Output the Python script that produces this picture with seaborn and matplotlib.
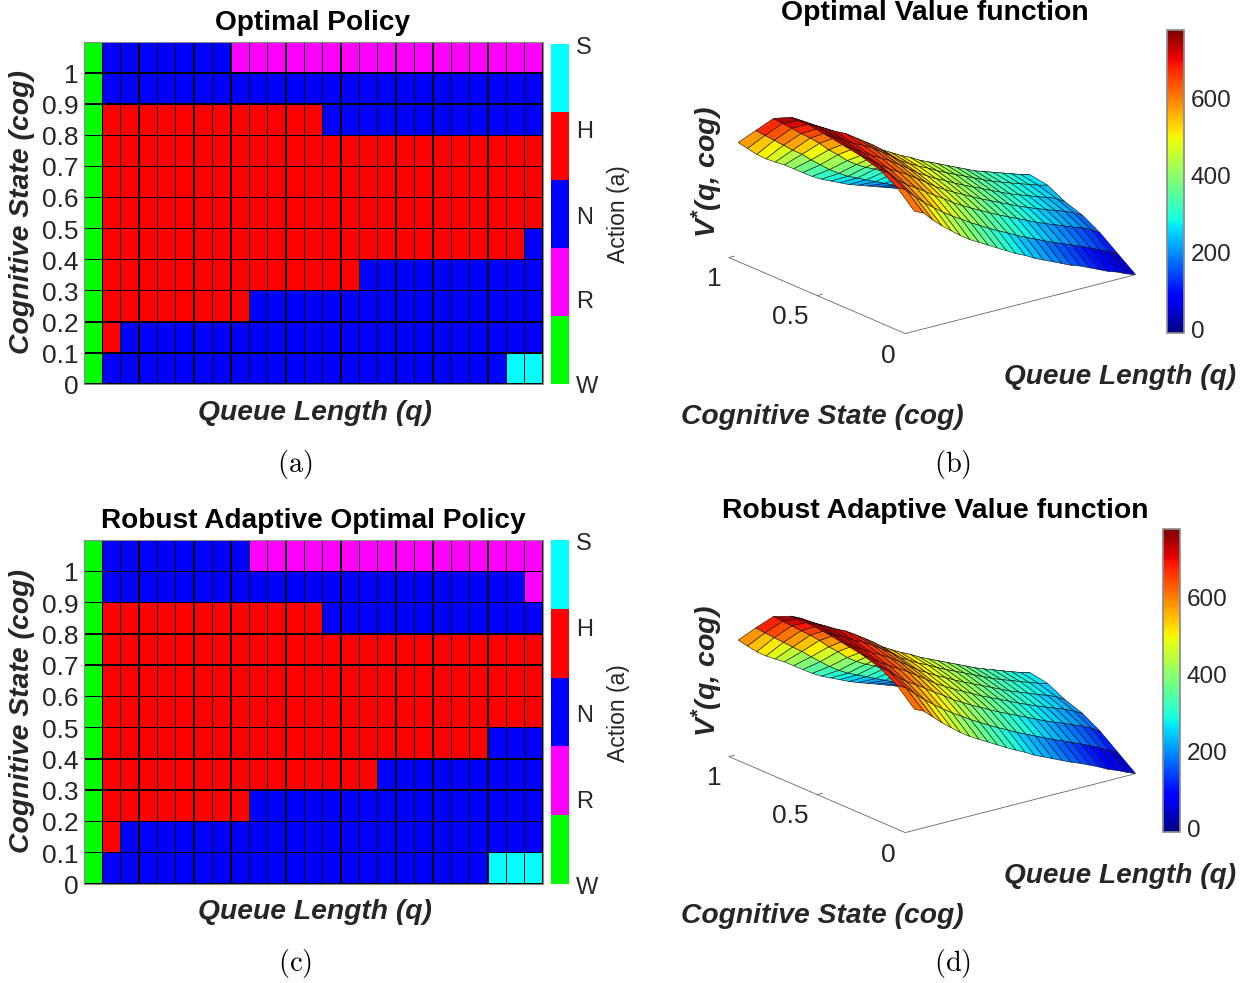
import numpy as np
import pandas as pd
import matplotlib
matplotlib.use("Agg")
import matplotlib.pyplot as plt
from matplotlib.colors import ListedColormap, Normalize
from matplotlib.cm import ScalarMappable
from matplotlib.transforms import ScaledTranslation
import seaborn as sns

W_PX, H_PX = 1248, 983

# Action labels, bottom to top on the colorbar
actions = ["W", "R", "N", "H", "S"]
action_colors = ["#00ff00", "#ff00ff", "#0000ff", "#ff0000", "#00ffff"]
cog_labels = ["1", "0.9", "0.8", "0.7", "0.6", "0.5", "0.4", "0.3", "0.2", "0.1", "0"]

# Policy tables, rows from top (high cog) to bottom
policy_a = [
    "W" + "N" * 7 + "R" * 17,
    "W" + "N" * 24,
    "W" + "H" * 12 + "N" * 12,
    "W" + "H" * 24,
    "W" + "H" * 24,
    "W" + "H" * 24,
    "W" + "H" * 23 + "N",
    "W" + "H" * 14 + "N" * 10,
    "W" + "H" * 8 + "N" * 16,
    "W" + "H" + "N" * 23,
    "W" + "N" * 22 + "S" * 2,
]
policy_c = [
    "W" + "N" * 8 + "R" * 16,
    "W" + "N" * 23 + "R",
    "W" + "H" * 12 + "N" * 12,
    "W" + "H" * 24,
    "W" + "H" * 24,
    "W" + "H" * 24,
    "W" + "H" * 21 + "N" * 3,
    "W" + "H" * 15 + "N" * 9,
    "W" + "H" * 8 + "N" * 16,
    "W" + "H" + "N" * 23,
    "W" + "N" * 21 + "S" * 3,
]

# Value surfaces, one list per cog level (0 to 1), q = 1..25
queue_levels = list(range(1, 26))
cog_levels = [0, 0.1, 0.2, 0.3, 0.4, 0.5, 0.6, 0.7, 0.8, 0.9, 1]
value_b = [
    [580, 560, 515, 475, 440, 405, 375, 350, 325, 300, 275, 250, 230, 205, 185, 165, 145, 125, 110, 90, 70, 50, 35, 15, 0],
    [660, 635, 590, 550, 515, 482, 452, 425, 397, 372, 347, 323, 302, 278, 258, 238, 218, 198, 182, 163, 145, 127, 105, 85, 63],
    [710, 680, 635, 600, 575, 545, 515, 488, 457, 432, 407, 385, 362, 340, 320, 300, 280, 260, 242, 225, 208, 190, 175, 155, 127],
    [735, 705, 670, 640, 615, 590, 560, 530, 498, 473, 448, 426, 403, 381, 361, 341, 321, 301, 283, 266, 250, 234, 219, 200, 176],
    [750, 725, 695, 668, 645, 620, 590, 560, 527, 502, 477, 456, 432, 411, 391, 371, 351, 331, 312, 296, 280, 264, 249, 233, 205],
    [765, 743, 717, 690, 670, 645, 615, 585, 550, 525, 500, 480, 456, 435, 415, 395, 375, 355, 336, 320, 305, 290, 275, 260, 249],
    [778, 760, 735, 710, 690, 660, 630, 600, 565, 540, 515, 495, 470, 450, 430, 410, 390, 370, 350, 335, 320, 305, 290, 275, 263],
    [778, 752, 722, 690, 660, 625, 585, 550, 510, 485, 460, 440, 415, 395, 375, 355, 335, 315, 300, 285, 270, 255, 240, 225, 215],
    [735, 700, 665, 628, 595, 558, 515, 480, 440, 410, 385, 365, 340, 320, 300, 280, 260, 240, 225, 210, 195, 185, 175, 170, 165],
    [640, 605, 570, 535, 500, 468, 430, 395, 360, 330, 305, 285, 265, 245, 225, 205, 190, 170, 155, 145, 135, 125, 120, 115, 115],
    [545, 505, 465, 432, 405, 380, 350, 320, 290, 265, 245, 225, 205, 190, 175, 160, 145, 130, 115, 105, 95, 85, 75, 65, 60],
]
value_d = [
    [585, 565, 525, 485, 450, 415, 385, 360, 335, 310, 285, 262, 240, 215, 195, 175, 155, 135, 118, 98, 78, 55, 38, 18, 0],
    [665, 640, 600, 560, 525, 492, 462, 435, 407, 382, 357, 333, 312, 288, 268, 248, 228, 208, 190, 170, 152, 132, 110, 88, 65],
    [715, 685, 645, 610, 585, 555, 525, 498, 467, 442, 417, 395, 372, 350, 330, 310, 290, 270, 250, 232, 215, 196, 180, 158, 130],
    [740, 710, 680, 650, 625, 600, 570, 540, 508, 483, 458, 436, 413, 391, 371, 351, 331, 311, 292, 274, 257, 240, 224, 204, 180],
    [755, 730, 705, 678, 655, 630, 600, 570, 537, 512, 487, 466, 442, 421, 401, 381, 361, 341, 321, 304, 287, 270, 254, 237, 210],
    [770, 748, 727, 700, 680, 655, 625, 595, 560, 535, 510, 490, 466, 445, 425, 405, 385, 365, 345, 328, 312, 296, 280, 264, 253],
    [778, 765, 742, 718, 697, 670, 640, 610, 575, 550, 525, 505, 480, 460, 440, 420, 400, 380, 360, 343, 327, 311, 295, 280, 268],
    [778, 757, 728, 698, 668, 632, 595, 560, 520, 495, 470, 450, 425, 405, 385, 365, 345, 325, 308, 292, 276, 260, 245, 230, 220],
    [740, 705, 672, 637, 604, 567, 525, 490, 450, 420, 395, 375, 350, 330, 310, 290, 270, 250, 233, 217, 201, 190, 180, 174, 170],
    [648, 613, 578, 544, 510, 477, 440, 405, 370, 340, 315, 295, 275, 255, 235, 215, 198, 178, 162, 150, 140, 130, 124, 118, 118],
    [552, 512, 473, 441, 415, 390, 360, 330, 300, 275, 255, 235, 215, 198, 183, 168, 152, 136, 120, 110, 100, 90, 80, 70, 62],
]

sns.set_theme(style="white")
plt.rcParams["font.family"] = ["Liberation Sans", "DejaVu Sans"]
plt.rcParams["mathtext.fontset"] = "custom"
plt.rcParams["mathtext.bf"] = "Liberation Sans:bold:italic"
plt.rcParams["mathtext.rm"] = "Liberation Sans:bold:italic"
plt.rcParams["mathtext.it"] = "Liberation Sans:bold:italic"

fig = plt.figure(figsize=(W_PX / 100, H_PX / 100), dpi=100)
TXT = "#262626"


def rect(x0, y0, x1, y1):
    # pixel box (top-left origin) to figure fractions
    return [x0 / W_PX, 1 - y1 / H_PX, (x1 - x0) / W_PX, (y1 - y0) / H_PX]


def put(x, y, s, **kw):
    kw.setdefault("ha", "center")
    kw.setdefault("va", "center")
    kw.setdefault("color", TXT)
    return fig.text(x / W_PX, 1 - y / H_PX, s, **kw)


def nudge(labels, px):
    # move tick labels down by px pixels
    shift = ScaledTranslation(0, -px / 100, fig.dpi_scale_trans)
    for lab in labels:
        lab.set_transform(lab.get_transform() + shift)


def policy_panel(policy, top, bottom, cbar_top, title, title_y, xlabel_y, caption, caption_y):
    ax = fig.add_axes(rect(84, top, 543, bottom))
    cax = fig.add_axes(rect(551, cbar_top, 569, bottom))
    table = pd.DataFrame([[actions.index(c) for c in row] for row in policy], index=cog_labels)
    sns.heatmap(table, ax=ax, cbar_ax=cax, cmap=ListedColormap(action_colors), vmin=0, vmax=4,
                linewidths=0.28, linecolor="#000000", cbar_kws={"ticks": [0, 1, 2, 3, 4]})
    ax.collections[0].set_snap(False)
    ax.set_xticks([])
    ax.set_yticks(np.arange(1, 12))
    ax.set_yticklabels(cog_labels, rotation=0, fontsize=19, color=TXT)
    ax.tick_params(axis="y", length=0, pad=4)
    nudge(ax.get_yticklabels(), 3)
    for s in ax.spines.values():
        s.set_visible(True)
        s.set_color("#8c8c8c")
        s.set_linewidth(0.8)
    cbar = ax.collections[0].colorbar
    cbar.set_ticklabels(actions)
    cbar.ax.tick_params(labelsize=17, length=0, pad=5, labelcolor=TXT)
    nudge(cbar.ax.get_yticklabels(), 1)
    cbar.outline.set_edgecolor("#8c8c8c")
    put(618, (top + bottom) / 2 + 1, "Action (a)", rotation=90, fontsize=16.5)
    put(313, title_y, title, fontsize=20.2, fontweight="bold", color="black")
    put(315, xlabel_y, "Queue Length (q)", fontsize=20.3, fontweight="bold", style="italic")
    put(22, (top + bottom) / 2 - 1, "Cognitive State (cog)", rotation=90, fontsize=20.4,
        fontweight="bold", style="italic")
    put(295, caption_y, caption, fontsize=20.5, math_fontfamily="cm", color="black")


def value_panel(value, dy, cbar_x, title, title_y, caption):
    ax = fig.add_axes(rect(711, -24 + dy, 1142, 407 + dy), projection="3d")
    ax.set_proj_type("ortho")
    ax.view_init(elev=19.4, azim=-127.6)
    ax.set_box_aspect((290, 288, 170), zoom=1.0)
    q_grid, cog_grid = np.meshgrid(queue_levels, cog_levels)
    z_grid = np.array(value)
    norm = Normalize(-12, 775)
    ax.plot_surface(q_grid, cog_grid, z_grid, cmap="jet", norm=norm, rstride=1, cstride=1,
                    edgecolor="#101010", linewidth=0.4, antialiased=True, shade=False)
    # bare floor axes with small ticks
    ax.plot([0, 25], [0, 0], [0, 0], color="#666666", lw=0.6)
    ax.plot([0, 0], [0, 1], [0, 0], color="#666666", lw=0.6)
    ax.plot([0, 0.6], [0.5, 0.5], [0, 0], color="#666666", lw=0.6)
    ax.plot([0, 0.6], [1, 1], [0, 0], color="#666666", lw=0.6)
    ax.set_xlim(0, 25)
    ax.set_ylim(0, 1)
    ax.set_zlim(0, 778)
    ax.set_axis_off()
    ax.patch.set_alpha(0)

    cax = fig.add_axes(rect(cbar_x, 30 + dy, cbar_x + 17, 333 + dy))
    cb = fig.colorbar(ScalarMappable(norm=norm, cmap="jet"), cax=cax, ticks=[0, 200, 400, 600])
    cb.ax.tick_params(labelsize=17.5, length=3, direction="in", pad=5, labelcolor=TXT)
    nudge(cb.ax.get_yticklabels(), 1.5)
    cb.outline.set_edgecolor("#8c8c8c")

    put(935, title_y, title, fontsize=20.4, fontweight="bold", color="black")
    put(707, 172 + dy, r"V$^{\mathbf{*}}$(q, cog)", rotation=90, fontsize=20.5, fontweight="bold", style="italic")
    put(714, 279 + dy, "1", fontsize=19)
    put(790, 317 + dy, "0.5", fontsize=19)
    put(888, 356 + dy, "0", fontsize=19)
    put(1120, 377 + dy, "Queue Length (q)", fontsize=20.2, fontweight="bold", style="italic")
    put(822, 417 + dy, "Cognitive State (cog)", fontsize=20.3, fontweight="bold", style="italic")
    put(953, 465 + dy, caption, fontsize=20.5, math_fontfamily="cm", color="black")


policy_panel(policy_a, 42, 384, 44, "Optimal Policy", 23, 413, r"$\mathrm{(a)}$", 465)
policy_panel(policy_c, 540, 884, 540, "Robust Adaptive Optimal Policy", 521, 912, r"$\mathrm{(c)}$", 964)
value_panel(value_b, 0, 1167, "Optimal Value function", 13, r"$\mathrm{(b)}$")
value_panel(value_d, 499, 1163, "Robust Adaptive Value function", 511, r"$\mathrm{(d)}$")

plt.savefig("out.png", dpi=100)
